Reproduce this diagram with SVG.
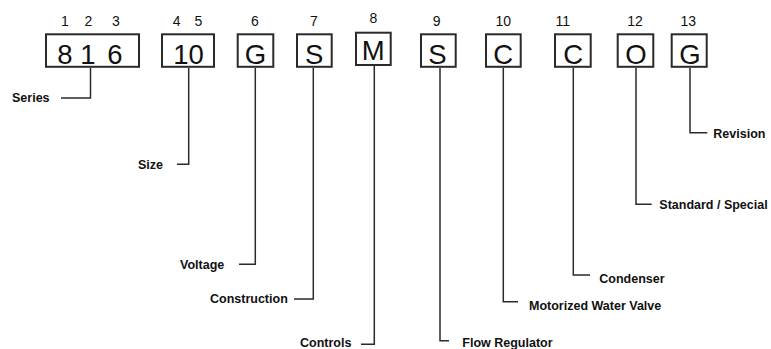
<svg xmlns="http://www.w3.org/2000/svg" width="771" height="349" viewBox="0 0 771 349">
<style>
.box{fill:#fff;stroke:#2a2a2a;stroke-width:2}
.big{font-family:"Liberation Sans",Arial,sans-serif;font-size:27.5px;fill:#111;text-anchor:middle}
.num{font-family:"Liberation Sans",Arial,sans-serif;font-size:14px;fill:#111;text-anchor:middle}
.lbl{font-family:"Liberation Sans",Arial,sans-serif;font-size:12.5px;font-weight:bold;fill:#111}
.ln{fill:none;stroke:#2a2a2a;stroke-width:1.5}
</style>
<rect width="771" height="349" fill="#fff"/>
<g id="connectors">
<polyline class="ln" points="90.5,68 90.5,98 61,98"/>
<polyline class="ln" points="188.7,68 188.7,164.3 177,164.3"/>
<polyline class="ln" points="255.3,68 255.3,264.3 239,264.3"/>
<polyline class="ln" points="313.3,68 313.3,299 294,299"/>
<polyline class="ln" points="374.3,66 374.3,344.3 361,344.3"/>
<polyline class="ln" points="440,68 440,340.7 449,340.7"/>
<polyline class="ln" points="503.3,68 503.3,301.7 518,301.7"/>
<polyline class="ln" points="573.3,68 573.3,275 590,275"/>
<polyline class="ln" points="636,68 636,204.3 651.7,204.3"/>
<polyline class="ln" points="690,68 690,132.7 707.3,132.7"/>
</g>
<g id="series">
<text class="num" x="65" y="25.7">1</text><text class="num" x="88.3" y="25.7">2</text><text class="num" x="116" y="25.7">3</text>
<rect class="box" x="46" y="34.3" width="93" height="32.5"/>
<text class="big" x="65" y="63.5">8</text><text class="big" x="88" y="63.5">1</text><text class="big" x="115" y="63.5">6</text>
<text class="lbl" x="12" y="102.3">Series</text>
</g>
<g id="size">
<text class="num" x="176.7" y="25.7">4</text><text class="num" x="198.3" y="25.7">5</text>
<rect class="box" x="162" y="34.3" width="52" height="32.5"/>
<text class="big" x="188.5" y="63.5">10</text>
<text class="lbl" x="138" y="169">Size</text>
</g>
<g id="voltage">
<text class="num" x="255" y="25.7">6</text>
<rect class="box" x="237.7" y="34.3" width="35.6" height="32.5"/>
<text class="big" x="255.5" y="63.5">G</text>
<text class="lbl" x="180" y="269">Voltage</text>
</g>
<g id="construction">
<text class="num" x="314" y="25.7">7</text>
<rect class="box" x="297" y="34.3" width="34.7" height="32.5"/>
<text class="big" x="314.2" y="63.5">S</text>
<text class="lbl" x="210" y="303">Construction</text>
</g>
<g id="controls">
<text class="num" x="373.3" y="23.3">8</text>
<rect class="box" x="356" y="32.7" width="34.7" height="32.3"/>
<text class="big" x="373.3" y="60.3">M</text>
<text class="lbl" x="300" y="347">Controls</text>
</g>
<g id="flow-regulator">
<text class="num" x="436.7" y="25.7">9</text>
<rect class="box" x="421" y="34.3" width="34.7" height="32.5"/>
<text class="big" x="437.5" y="63.5">S</text>
<text class="lbl" x="462.3" y="347">Flow Regulator</text>
</g>
<g id="motorized-water-valve">
<text class="num" x="503.3" y="25.7">10</text>
<rect class="box" x="486" y="34.3" width="34.7" height="32.5"/>
<text class="big" x="503.3" y="63.5">C</text>
<text class="lbl" x="529" y="309.5">Motorized Water Valve</text>
</g>
<g id="condenser">
<text class="num" x="562.7" y="25.7">11</text>
<rect class="box" x="555" y="34.3" width="35.7" height="32.5"/>
<text class="big" x="573.3" y="63.5">C</text>
<text class="lbl" x="599.3" y="283">Condenser</text>
</g>
<g id="standard-special">
<text class="num" x="635" y="25.7">12</text>
<rect class="box" x="617.7" y="34.3" width="35.6" height="32.5"/>
<text class="big" x="636" y="63.5">O</text>
<text class="lbl" x="659.3" y="208.5">Standard / Special</text>
</g>
<g id="revision">
<text class="num" x="688.3" y="25.7">13</text>
<rect class="box" x="671.7" y="34.3" width="35" height="32.5"/>
<text class="big" x="690" y="63.5">G</text>
<text class="lbl" x="713.3" y="137.7">Revision</text>
</g>
</svg>
